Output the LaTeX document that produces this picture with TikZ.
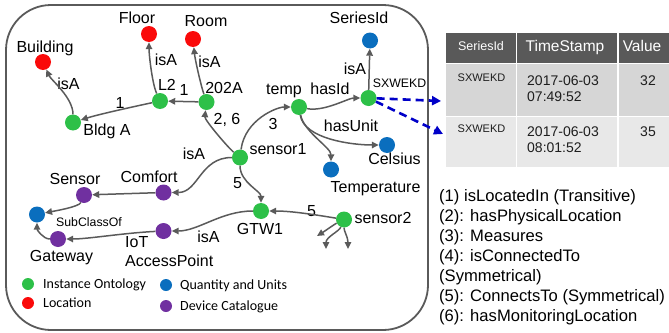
\documentclass[tikz,border=0pt]{standalone}
\usepackage{fontspec}
\setmainfont{Liberation Sans}
\newfontfamily\legendfont{Carlito}
\usetikzlibrary{arrows.meta}
\definecolor{cgreen}{RGB}{45,192,72}
\definecolor{cred}{RGB}{250,10,10}
\definecolor{cblue}{RGB}{10,110,190}
\definecolor{cpurple}{RGB}{112,48,160}
\definecolor{cedge}{RGB}{90,90,90}
\definecolor{cdash}{RGB}{0,0,200}
\definecolor{thead}{RGB}{89,89,89}
\definecolor{trowa}{RGB}{214,214,214}
\definecolor{trowb}{RGB}{232,232,232}
\definecolor{ttext}{RGB}{30,30,30}
\begin{document}
\begin{tikzpicture}[x=1pt,y=-1pt,
  dot/.style={circle, inner sep=0pt, minimum size=16pt},
  gdot/.style={dot, fill=cgreen},
  rdot/.style={dot, fill=cred},
  bdot/.style={dot, fill=cblue},
  pdot/.style={dot, fill=cpurple},
  ldot/.style={circle, inner sep=0pt, minimum size=12pt},
  lbl/.style={inner sep=0pt, text height=11.5pt, text depth=0pt, font=\fontsize{16}{19}\selectfont},
  slbl/.style={inner sep=0pt, text height=8.8pt, text depth=0pt, font=\fontsize{12.3}{14}\selectfont},
  leglbl/.style={inner sep=0pt, text height=9pt, text depth=0pt, anchor=west, font=\legendfont\fontsize{14}{16}\selectfont},
  hdrlbl/.style={inner sep=0pt, text=white, text height=10.5pt, text depth=0pt},
  cellsmall/.style={inner sep=0pt, text=ttext, text height=8pt, text depth=0pt, font=\fontsize{11}{13}\selectfont},
  cellbig/.style={inner sep=0pt, text=ttext, text height=10pt, text depth=0pt, font=\fontsize{14}{16}\selectfont},
  note/.style={inner sep=0pt, text height=11.8pt, text depth=0pt, font=\fontsize{16.6}{20}\selectfont, anchor=west, text=black},
  edge/.style={draw=cedge, line width=1.5pt, -{Triangle[length=7pt,width=6.5pt]}},
  dashedge/.style={draw=cdash, line width=2.6pt, dash pattern=on 8pt off 5pt, -{Triangle[length=9pt,width=9pt]}},
]
\useasboundingbox (0,0) rectangle (669,332);

% frame
\draw[cedge, line width=1.8pt, rounded corners=45pt] (6,5) rectangle (428,330);

% concept nodes
\node[rdot] (building) at (43,62) {};
\node[rdot] (floor) at (149,34) {};
\node[rdot] (room) at (193,39) {};
\node[gdot] (l2) at (160,101) {};
\node[gdot] (r202a) at (206.5,102) {};
\node[gdot] (bldg) at (73,122.5) {};
\node[gdot] (sensor1) at (240,157.5) {};
\node[gdot] (temp) at (299,107) {};
\node[gdot] (sxwekd) at (368.5,98) {};
\node[bdot] (seriesid) at (370,40.5) {};
\node[bdot] (celsius) at (387,145) {};
\node[bdot] (temperature) at (331,169.5) {};
\node[gdot] (gtw1) at (261,211) {};
\node[gdot] (sensor2) at (344,219.5) {};
\node[pdot] (comfort) at (163.5,192.5) {};
\node[pdot] (sensor) at (84,195) {};
\node[bdot] (blueq) at (37,214.5) {};
\node[pdot] (gateway) at (58,239) {};
\node[pdot] (iotap) at (163.5,231) {};

\coordinate (s2a) at (317,236);
\coordinate (s2b) at (326,249);
\coordinate (s2c) at (348,249);
\coordinate (d1) at (441,101);
\coordinate (d2) at (443,134);

% node labels
\node[lbl] (tbuilding) at (45,47) {Building};
\node[lbl] (tfloor) at (137,17.5) {Floor};
\node[lbl] (troom) at (206,20.5) {Room};
\node[lbl] (tl2) at (167,84.5) {L2};
\node[lbl] (t202a) at (224,87.5) {202A};
\node[lbl] (tbldg) at (107,129.5) {Bldg A};
\node[lbl] (tsensor1) at (278,148.5) {sensor1};
\node[lbl] (ttemp) at (284,88.5) {temp};
\node[slbl] (tsxwekd) at (399.5,83) {SXWEKD};
\node[lbl] (tseriesid) at (359,17.5) {SeriesId};
\node[lbl] (tcelsius) at (394.5,159) {Celsius};
\node[lbl] (ttemperature) at (375.5,187) {Temperature};
\node[lbl] (tgtw1) at (260,228.5) {GTW1};
\node[lbl] (tsensor2) at (383,218) {sensor2};
\node[lbl] (tcomfort) at (149,176.5) {Comfort};
\node[lbl] (tsensor) at (75,178.5) {Sensor};
\node[lbl] (tgateway) at (61.5,255.5) {Gateway};
\node[lbl, anchor=west] (tiot) at (125,241.5) {IoT};
\node[lbl, anchor=west] (taccess) at (125,261) {AccessPoint};

% edge labels
\node[lbl] (e1) at (68.5,84) {isA};
\node[lbl] (e2) at (120,103) {1};
\node[lbl] (e3) at (166,60) {isA};
\node[lbl] (e4) at (184,89.5) {1};
\node[lbl] (e5) at (209.5,62) {isA};
\node[lbl] (e6) at (227,119) {2, 6};
\node[lbl] (e7) at (194,154) {isA};
\node[lbl] (e8) at (330,88.5) {hasId};
\node[lbl] (e9) at (355,68.5) {isA};
\node[lbl] (e10) at (273,123.5) {3};
\node[lbl] (e11) at (351,125.5) {hasUnit};
\node[lbl] (e12) at (237.5,183) {5};
\node[lbl] (e13) at (311.5,210.5) {5};
\node[lbl] (e14) at (208.5,236.5) {isA};
\node[slbl] (e15) at (89,222) {SubClassOf};

% connectors
\draw[edge] (bldg) .. controls +(0,-25) and +(8,18) .. (building);
\draw[edge] (l2) .. controls +(-28,6) and +(25,-8) .. (bldg);
\draw[edge] (l2) .. controls +(-8,-18) and +(0,20) .. (floor);
\draw[edge] (r202a) -- (l2);
\draw[edge] (r202a) .. controls +(-6,-18) and +(2,20) .. (room);
\draw[edge] (sensor1) .. controls +(-12,-10) and +(-2,18) .. (r202a);
\draw[edge] (sensor1) .. controls +(5,-38) and +(-22,0) .. (temp);
\draw[edge] (temp) .. controls +(25,5) and +(-20,0) .. (sxwekd);
\draw[edge] (sxwekd) -- (seriesid);
\draw[edge] (temp) .. controls +(5,32) and +(-35,0) .. (celsius);
\draw[edge] (temp) .. controls +(5,25) and +(0,-22) .. (temperature);
\draw[edge] (sensor1) .. controls +(-40,0) and +(35,0) .. (comfort);
\draw[edge] (sensor1) .. controls +(0,25) and +(0,-20) .. (gtw1);
\draw[edge] (sensor2) .. controls +(-30,-5) and +(30,0) .. (gtw1);
\draw[edge] (gtw1) .. controls +(-40,0) and +(35,0) .. (iotap);
\draw[edge] (comfort) -- (sensor);
\draw[edge] (iotap) .. controls +(-40,2) and +(30,0) .. (gateway);
\draw[edge] (sensor) .. controls +(-5,12) and +(15,-3) .. (blueq);
\draw[edge] (gateway) .. controls +(-15,0) and +(0,15) .. (blueq);
\draw[edge] (sensor2) .. controls +(-10,5) and +(8,-5) .. (s2a);
\draw[edge] (sensor2) .. controls +(-5,12) and +(0,-12) .. (s2b);
\draw[edge] (sensor2) .. controls +(0,12) and +(0,-12) .. (s2c);
\draw[dashedge] (sxwekd) -- (d1);
\draw[dashedge] (sxwekd) -- (d2);

% table
\fill[thead] (446,33.3) rectangle (515.5,62.7);
\fill[thead] (517.3,33.3) rectangle (617,62.7);
\fill[thead] (619,33.3) rectangle (669,62.7);
\fill[trowa] (446,64.3) rectangle (515.5,115.5);
\fill[trowa] (517.3,64.3) rectangle (617,115.5);
\fill[trowa] (619,64.3) rectangle (669,115.5);
\fill[trowb] (446,117.3) rectangle (515.5,167);
\fill[trowb] (517.3,117.3) rectangle (617,167);
\fill[trowb] (619,117.3) rectangle (669,167);

\node[hdrlbl, text height=9pt, font=\fontsize{12.5}{14}\selectfont] (h1) at (481,45.5) {SeriesId};
\node[hdrlbl, font=\fontsize{15.5}{17}\selectfont] (h2) at (565,46) {TimeStamp};
\node[hdrlbl, font=\fontsize{15.5}{17}\selectfont] (h3) at (642,46) {Value};
\node[cellsmall] (c11) at (481.5,77.5) {SXWEKD};
\node[cellbig, anchor=west] (c12) at (527,80) {2017-06-03};
\node[cellbig, anchor=west] (c12b) at (527,96.5) {07:49:52};
\node[cellbig] (c13) at (648,80) {32};
\node[cellsmall] (c21) at (481.5,128.5) {SXWEKD};
\node[cellbig, anchor=west] (c22) at (527,131) {2017-06-03};
\node[cellbig, anchor=west] (c22b) at (527,147.5) {08:01:52};
\node[cellbig] (c23) at (648,131) {35};

% notes
\node[note] (n1) at (439,196) {(1) isLocatedIn (Transitive)};
\node[note] (n2) at (439,216) {(2): hasPhysicalLocation};
\node[note] (n3) at (439,236) {(3): Measures};
\node[note] (n4) at (439,256) {(4): isConnectedTo};
\node[note] (n4b) at (439,276) {(Symmetrical)};
\node[note] (n5) at (439,296) {(5): ConnectsTo (Symmetrical)};
\node[note] (n6) at (439,316) {(6): hasMonitoringLocation};

% legend
\node[ldot, fill=cgreen] (lg1) at (28,284) {};
\node[ldot, fill=cred] (lg2) at (28,303) {};
\node[ldot, fill=cblue] (lg3) at (166,285) {};
\node[ldot, fill=cpurple] (lg4) at (166,306) {};
\node[leglbl] (lt1) at (43,283.5) {Instance Ontology};
\node[leglbl] (lt2) at (43,303) {Location};
\node[leglbl] (lt3) at (180,285) {Quantity and Units};
\node[leglbl] (lt4) at (180,305.5) {Device Catalogue};
\end{tikzpicture}
\end{document}
